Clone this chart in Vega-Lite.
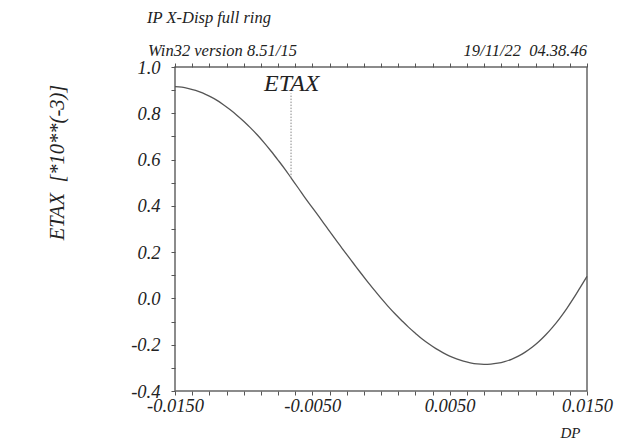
{
  "$schema": "https://vega.github.io/schema/vega-lite/v6.json",
  "width": 412,
  "height": 324,
  "autosize": "none",
  "padding": {"left": 175, "top": 67, "right": 34, "bottom": 51},
  "background": "white",
  "config": {
    "view": {"stroke": "#666666", "strokeWidth": 1.5},
    "font": "Liberation Serif"
  },
  "encoding": {
    "y": {
      "field": "ETAX", "type": "quantitative",
      "scale": {"domain": [-0.4, 1.0], "nice": false, "zero": false},
      "axis": {
        "values": [-0.4, -0.3, -0.2, -0.1, 0, 0.1, 0.2, 0.3, 0.4, 0.5, 0.6, 0.7, 0.8, 0.9, 1.0],
        "labelExpr": "abs(datum.value * 5 - round(datum.value * 5)) < 0.01 ? (datum.value < -0.0001 ? '-' + format(-datum.value, '.1f') : format(abs(datum.value), '.1f')) : ''",
        "labelFont": "Liberation Serif",
        "labelFontStyle": "italic",
        "labelFontSize": 18.5,
        "labelColor": "#222222",
        "labelPadding": 11,
        "labelFlush": false,
        "labelOverlap": false,
        "domain": false,
        "grid": false,
        "ticks": true,
        "tickColor": "#555555",
        "tickWidth": 1,
        "tickSize": 4,
        "encode": {"ticks": {"update": {"x2": {"value": 4}}}},
        "title": "ETAX\u00a0\u00a0[*10**(-3)]",
        "titleFont": "Liberation Serif",
        "titleFontStyle": "italic",
        "titleFontWeight": "normal",
        "titleFontSize": 20.5,
        "titleColor": "#222222",
        "titleAngle": -90,
        "titleAnchor": null,
        "titleAlign": "center",
        "titleBaseline": "middle",
        "titleX": -118,
        "titleY": 95
      }
    }
  },
  "layer": [
    {
      "data": {"values": [
        {"DP": -0.0150, "ETAX": 0.915},
        {"DP": -0.0145, "ETAX": 0.913},
        {"DP": -0.0140, "ETAX": 0.907},
        {"DP": -0.0135, "ETAX": 0.899},
        {"DP": -0.0130, "ETAX": 0.888},
        {"DP": -0.0125, "ETAX": 0.874},
        {"DP": -0.0120, "ETAX": 0.858},
        {"DP": -0.0115, "ETAX": 0.838},
        {"DP": -0.0110, "ETAX": 0.816},
        {"DP": -0.0105, "ETAX": 0.792},
        {"DP": -0.0100, "ETAX": 0.766},
        {"DP": -0.0095, "ETAX": 0.737},
        {"DP": -0.0090, "ETAX": 0.706},
        {"DP": -0.0085, "ETAX": 0.672},
        {"DP": -0.0080, "ETAX": 0.636},
        {"DP": -0.0075, "ETAX": 0.598},
        {"DP": -0.0070, "ETAX": 0.559},
        {"DP": -0.0065, "ETAX": 0.517},
        {"DP": -0.0060, "ETAX": 0.475},
        {"DP": -0.0055, "ETAX": 0.432},
        {"DP": -0.0050, "ETAX": 0.392},
        {"DP": -0.0045, "ETAX": 0.352},
        {"DP": -0.0040, "ETAX": 0.311},
        {"DP": -0.0035, "ETAX": 0.270},
        {"DP": -0.0030, "ETAX": 0.230},
        {"DP": -0.0025, "ETAX": 0.190},
        {"DP": -0.0020, "ETAX": 0.151},
        {"DP": -0.0015, "ETAX": 0.112},
        {"DP": -0.0010, "ETAX": 0.074},
        {"DP": -0.0005, "ETAX": 0.037},
        {"DP": 0.0000, "ETAX": 0.001},
        {"DP": 0.0005, "ETAX": -0.033},
        {"DP": 0.0010, "ETAX": -0.065},
        {"DP": 0.0015, "ETAX": -0.095},
        {"DP": 0.0020, "ETAX": -0.124},
        {"DP": 0.0025, "ETAX": -0.150},
        {"DP": 0.0030, "ETAX": -0.175},
        {"DP": 0.0035, "ETAX": -0.197},
        {"DP": 0.0040, "ETAX": -0.217},
        {"DP": 0.0045, "ETAX": -0.234},
        {"DP": 0.0050, "ETAX": -0.249},
        {"DP": 0.0055, "ETAX": -0.261},
        {"DP": 0.0060, "ETAX": -0.271},
        {"DP": 0.0065, "ETAX": -0.278},
        {"DP": 0.0070, "ETAX": -0.283},
        {"DP": 0.0075, "ETAX": -0.285},
        {"DP": 0.0080, "ETAX": -0.284},
        {"DP": 0.0085, "ETAX": -0.280},
        {"DP": 0.0090, "ETAX": -0.273},
        {"DP": 0.0095, "ETAX": -0.263},
        {"DP": 0.0100, "ETAX": -0.249},
        {"DP": 0.0105, "ETAX": -0.232},
        {"DP": 0.0110, "ETAX": -0.211},
        {"DP": 0.0115, "ETAX": -0.186},
        {"DP": 0.0120, "ETAX": -0.157},
        {"DP": 0.0125, "ETAX": -0.124},
        {"DP": 0.0130, "ETAX": -0.087},
        {"DP": 0.0135, "ETAX": -0.046},
        {"DP": 0.0140, "ETAX": -0.001},
        {"DP": 0.0145, "ETAX": 0.047},
        {"DP": 0.0150, "ETAX": 0.095}
      ]},
      "mark": {"type": "line", "color": "#555555", "strokeWidth": 1.3, "interpolate": "monotone"},
      "encoding": {
        "x": {
          "field": "DP", "type": "quantitative",
          "scale": {"domain": [-0.015, 0.015], "nice": false, "zero": false},
          "axis": {
            "orient": "bottom",
            "values": [-0.015, -0.01375, -0.0125, -0.01125, -0.01, -0.00875, -0.0075, -0.00625, -0.005, -0.00375, -0.0025, -0.00125, 0, 0.00125, 0.0025, 0.00375, 0.005, 0.00625, 0.0075, 0.00875, 0.01, 0.01125, 0.0125, 0.01375, 0.015],
            "labelExpr": "indexof([-0.015, -0.005, 0.005, 0.015], datum.value) >= 0 ? (datum.value < 0 ? '-' + format(-datum.value, '.4f') : format(datum.value, '.4f')) : ''",
            "labelFont": "Liberation Serif",
            "labelFontStyle": "italic",
            "labelFontSize": 18.5,
            "labelColor": "#222222",
            "labelPadding": 1,
            "labelFlush": false,
            "labelOverlap": false,
            "domain": false,
            "grid": false,
            "ticks": true,
            "tickColor": "#555555",
            "tickWidth": 1,
            "tickSize": 4,
            "encode": {"ticks": {"update": {"y2": {"signal": "abs(datum.value / 0.0025 - round(datum.value / 0.0025)) > 0.1 ? -2 : -4"}}}},
            "title": "DP",
            "titleFont": "Liberation Serif",
            "titleFontStyle": "italic",
            "titleFontWeight": "normal",
            "titleFontSize": 15,
            "titleColor": "#222222",
            "titleAnchor": null,
            "titleAlign": "center",
            "titleBaseline": "middle",
            "titleX": 395,
            "titleY": 41
          }
        }
      }
    },
    {
      "data": {"values": [{"DP": -0.00655, "ETAX": 0.52, "ETAX2": 0.886}]},
      "mark": {"type": "rule", "color": "#888888", "strokeWidth": 1, "strokeDash": [1.5, 1.5]},
      "encoding": {
        "x": {"field": "DP", "type": "quantitative",
          "axis": {
            "orient": "top",
            "values": [-0.015, -0.01375, -0.0125, -0.01125, -0.01, -0.00875, -0.0075, -0.00625, -0.005, -0.00375, -0.0025, -0.00125, 0, 0.00125, 0.0025, 0.00375, 0.005, 0.00625, 0.0075, 0.00875, 0.01, 0.01125, 0.0125, 0.01375, 0.015],
            "labels": false,
            "domain": false,
            "grid": false,
            "title": null,
            "ticks": true,
            "tickColor": "#555555",
            "tickWidth": 1,
            "tickSize": 4,
            "encode": {"ticks": {"update": {"y2": {"signal": "abs(datum.value / 0.0025 - round(datum.value / 0.0025)) > 0.1 ? 2 : 4"}}}}
          }
        },
        "y2": {"field": "ETAX2"}
      }
    },
    {
      "data": {"values": [{"DP": -0.0065, "ETAX": 0.927, "label": "ETAX"}]},
      "mark": {"type": "text", "font": "Liberation Serif", "fontStyle": "italic", "fontSize": 24, "color": "#222222", "align": "center", "baseline": "middle"},
      "encoding": {
        "x": {"field": "DP", "type": "quantitative", "axis": null},
        "text": {"field": "label"}
      }
    },
    {
      "data": {"values": [
        {"DP": -0.015, "ETAX": 1.0, "label": "IP X-Disp full ring"}
      ]},
      "mark": {"type": "text", "font": "Liberation Serif", "fontStyle": "italic", "fontSize": 16.5, "color": "#222222", "align": "left", "baseline": "alphabetic", "dx": -28, "dy": -44, "clip": false},
      "encoding": {
        "x": {"field": "DP", "type": "quantitative", "axis": null},
        "text": {"field": "label"}
      }
    },
    {
      "data": {"values": [{"DP": -0.015, "ETAX": 1.0, "label": "Win32 version 8.51/15"}]},
      "mark": {"type": "text", "font": "Liberation Serif", "fontStyle": "italic", "fontSize": 16.5, "color": "#222222", "align": "left", "baseline": "alphabetic", "dx": -27, "dy": -11, "clip": false},
      "encoding": {
        "x": {"field": "DP", "type": "quantitative", "axis": null},
        "text": {"field": "label"}
      }
    },
    {
      "data": {"values": [{"DP": 0.015, "ETAX": 1.0, "label": "19/11/22\u00a0\u00a004.38.46"}]},
      "mark": {"type": "text", "font": "Liberation Serif", "fontStyle": "italic", "fontSize": 16.5, "color": "#222222", "align": "right", "baseline": "alphabetic", "dx": 0, "dy": -11, "clip": false},
      "encoding": {
        "x": {"field": "DP", "type": "quantitative", "axis": null},
        "text": {"field": "label"}
      }
    }
  ]
}
